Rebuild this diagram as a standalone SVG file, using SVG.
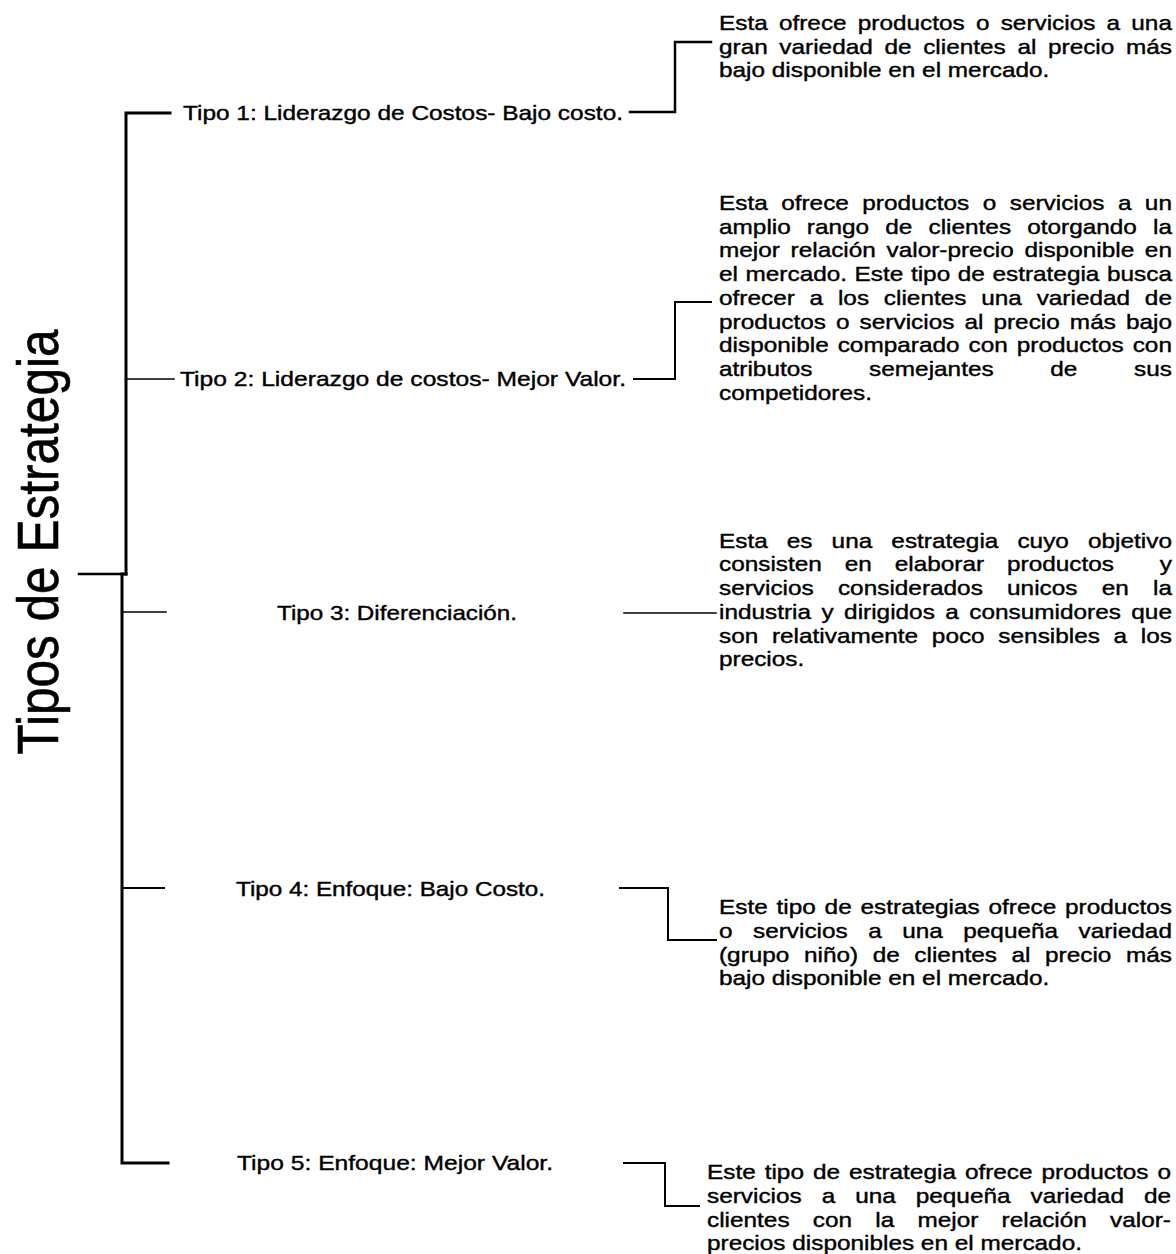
<svg xmlns="http://www.w3.org/2000/svg" width="1176" height="1254" viewBox="0 0 1176 1254">
<style>
text { font-family: "Liberation Sans", Arial, Helvetica, sans-serif; fill: #000; stroke: #000; stroke-width: 0.4; }
.lbl { font-size: 21px; }
.desc text { font-size: 21px; }
.title { font-size: 49px; stroke-width: 0.5; }
.c line, .c polyline { stroke: #000; fill: none; stroke-linecap: square; stroke-linejoin: miter; }
</style>
<rect width="1176" height="1254" fill="#fff"/>
<g id="connectors" class="c">
  <line x1="79" y1="574" x2="124" y2="574" stroke-width="2.5"/>
  <polyline points="170,113 126,113 126,574" stroke-width="3"/>
  <polyline points="126,574 122,574 122,1163 168,1163" stroke-width="3"/>
  <line x1="126" y1="379" x2="174" y2="379" stroke-width="1.5"/>
  <line x1="122" y1="612" x2="166" y2="612" stroke-width="1.5"/>
  <line x1="122" y1="888" x2="164" y2="888" stroke-width="2"/>
  <polyline points="630,112 675,112 675,42 711,42" stroke-width="2.5"/>
  <polyline points="634,379 675,379 675,302 711,302" stroke-width="2"/>
  <line x1="624" y1="613" x2="716" y2="613" stroke-width="1.5"/>
  <polyline points="620,888 668,888 668,940 716,940" stroke-width="2"/>
  <polyline points="624,1163 665,1163 665,1206 699,1206" stroke-width="2"/>
</g>
<g id="title">
  <text class="title" text-anchor="middle" textLength="425" lengthAdjust="spacingAndGlyphs" transform="translate(58 542) scale(1.16 1) rotate(-90)">Tipos de Estrategia</text>
</g>
<g id="tipo1"><text class="lbl" x="183" y="120" textLength="440" lengthAdjust="spacingAndGlyphs">Tipo 1: Liderazgo de Costos- Bajo costo.</text></g>
<g id="tipo2"><text class="lbl" x="180" y="386" textLength="446" lengthAdjust="spacingAndGlyphs">Tipo 2: Liderazgo de costos- Mejor Valor.</text></g>
<g id="tipo3"><text class="lbl" x="277" y="620" textLength="240" lengthAdjust="spacingAndGlyphs">Tipo 3: Diferenciación.</text></g>
<g id="tipo4"><text class="lbl" x="236" y="896" textLength="309" lengthAdjust="spacingAndGlyphs">Tipo 4: Enfoque: Bajo Costo.</text></g>
<g id="tipo5"><text class="lbl" x="237" y="1170" textLength="316" lengthAdjust="spacingAndGlyphs">Tipo 5: Enfoque: Mejor Valor.</text></g>
<g id="desc1" class="desc" transform="translate(719 0) scale(1.16 1)">
  <text x="0" y="30" word-spacing="3.8" textLength="390.5" lengthAdjust="spacing">Esta ofrece productos o servicios a una</text>
  <text x="0" y="53.75" word-spacing="4.2" textLength="390.5" lengthAdjust="spacing">gran variedad de clientes al precio más</text>
  <text x="0" y="77.5">bajo disponible en el mercado.</text>
</g>
<g id="desc2" class="desc" transform="translate(719 0) scale(1.16 1)">
  <text x="0" y="210" word-spacing="5.75" textLength="390.5" lengthAdjust="spacing">Esta ofrece productos o servicios a un</text>
  <text x="0" y="233.75" word-spacing="8.06" textLength="390.5" lengthAdjust="spacing">amplio rango de clientes otorgando la</text>
  <text x="0" y="257.5" word-spacing="3.39" textLength="390.5" lengthAdjust="spacing">mejor relación valor-precio disponible en</text>
  <text x="0" y="281.25" word-spacing="0.68" textLength="390.5" lengthAdjust="spacing">el mercado. Este tipo de estrategia busca</text>
  <text x="0" y="305" word-spacing="6.92" textLength="390.5" lengthAdjust="spacing">ofrecer a los clientes una variedad de</text>
  <text x="0" y="328.75" word-spacing="2.83" textLength="390.5" lengthAdjust="spacing">productos o servicios al precio más bajo</text>
  <text x="0" y="352.5" word-spacing="1.9" textLength="390.5" lengthAdjust="spacing">disponible comparado con productos con</text>
  <text x="0" y="376.25" word-spacing="43" textLength="390.5" lengthAdjust="spacing">atributos semejantes de sus</text>
  <text x="0" y="400">competidores.</text>
</g>
<g id="desc3" class="desc" transform="translate(719 0) scale(1.16 1)">
  <text x="0" y="547.75" word-spacing="10.6" textLength="390.5" lengthAdjust="spacing">Esta es una estrategia cuyo objetivo</text>
  <text x="0" y="571.5" word-spacing="13.9">consisten en elaborar productos</text>
  <text x="390.5" y="571.5" text-anchor="end">y</text>
  <text x="0" y="595.25" word-spacing="15.05" textLength="390.5" lengthAdjust="spacing">servicios considerados unicos en la</text>
  <text x="0" y="619" word-spacing="3.18" textLength="390.5" lengthAdjust="spacing">industria y dirigidos a consumidores que</text>
  <text x="0" y="642.75" word-spacing="5.97" textLength="390.5" lengthAdjust="spacing">son relativamente poco sensibles a los</text>
  <text x="0" y="666.5">precios.</text>
</g>
<g id="desc4" class="desc" transform="translate(719 0) scale(1.16 1)">
  <text x="0" y="914.25" word-spacing="1.76" textLength="390.5" lengthAdjust="spacing">Este tipo de estrategias ofrece productos</text>
  <text x="0" y="938" word-spacing="11.8" textLength="390.5" lengthAdjust="spacing">o servicios a una pequeña variedad</text>
  <text x="0" y="961.75" word-spacing="6.73" textLength="390.5" lengthAdjust="spacing">(grupo niño) de clientes al precio más</text>
  <text x="0" y="985.5">bajo disponible en el mercado.</text>
</g>
<g id="desc5" class="desc" transform="translate(707 0) scale(1.16 1)">
  <text x="0" y="1179" word-spacing="1.88" textLength="400" lengthAdjust="spacing">Este tipo de estrategia ofrece productos o</text>
  <text x="0" y="1203" word-spacing="11.36" textLength="400" lengthAdjust="spacing">servicios a una pequeña variedad de</text>
  <text x="0" y="1226.75" word-spacing="14.18" textLength="400" lengthAdjust="spacing">clientes con la mejor relación valor-</text>
  <text x="0" y="1250.5">precios disponibles en el mercado.</text>
</g>
</svg>
